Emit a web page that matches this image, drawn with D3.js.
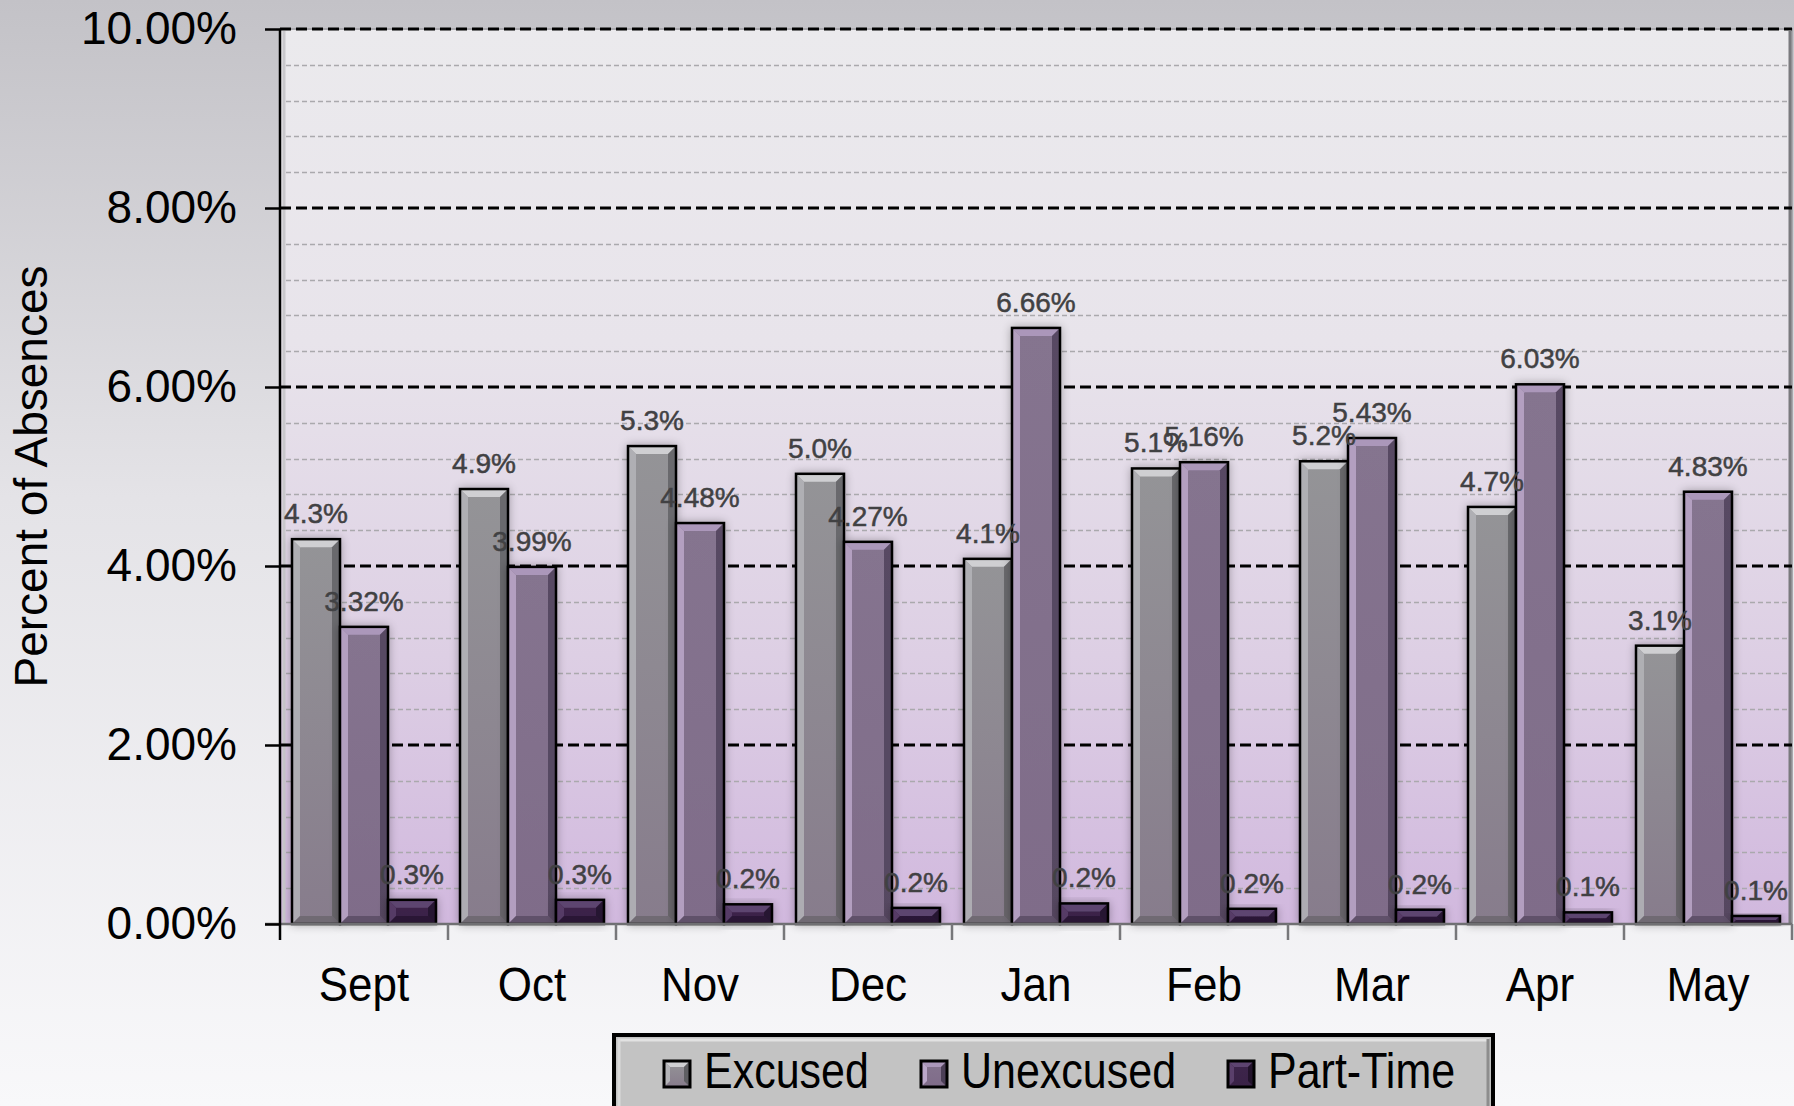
<!DOCTYPE html>
<html>
<head>
<meta charset="utf-8">
<script src="https://cdn.jsdelivr.net/npm/d3@7"></script>
<style>
  body { margin: 0; padding: 0; overflow: hidden; }
  svg { display: block; font-family: "Liberation Sans", Arial, sans-serif; }
</style>
</head>
<body>
<svg id="chart" width="1794" height="1106"></svg>
<script>
var months = ["Sept", "Oct", "Nov", "Dec", "Jan", "Feb", "Mar", "Apr", "May"];
var seriesNames = ["Excused", "Unexcused", "Part-Time"];
var excused = [4.30, 4.86, 5.34, 5.03, 4.08, 5.09, 5.17, 4.66, 3.11];
var unexcused = [3.32, 3.99, 4.48, 4.27, 6.66, 5.16, 5.43, 6.03, 4.83];
var partTime = [0.27, 0.27, 0.22, 0.18, 0.23, 0.17, 0.16, 0.13, 0.09];
var labelDigits = [1, 2, 1];
var yTicks = [0, 2, 4, 6, 8, 10];

var svg = d3.select("svg#chart"),
    W = +svg.attr("width"),
    H = +svg.attr("height"),
    margin = {top: 29, right: 2, bottom: 182, left: 280},
    width = W - margin.left - margin.right,
    height = H - margin.top - margin.bottom;

var data = months.map(function(m, i) {
  return {month: m, values: [excused[i], unexcused[i], partTime[i]]};
});

// colours per series: base gradient top/bottom, bevel light, bevel dark
var pal = [
  {top: "#949497", bot: "#877c8c", light: "#cfcfd2", side: "#b4b4b8", dark: "#5f5f63"},
  {top: "#85748f", bot: "#7f6c89", light: "#ab97ba", side: "#bba7c9", dark: "#4c3f57"},
  {top: "#3d254b", bot: "#3a2247", light: "#5d4470", side: "#5a3f6b", dark: "#22132b"}
];

var defs = svg.append("defs");

var bg = defs.append("linearGradient").attr("id", "bg").attr("x1", 0).attr("y1", 0).attr("x2", 0).attr("y2", 1);
bg.append("stop").attr("offset", "0%").attr("stop-color", "#c3c2c7");
bg.append("stop").attr("offset", "45%").attr("stop-color", "#e4e3e7");
bg.append("stop").attr("offset", "100%").attr("stop-color", "#f8f8fa");

var pg = defs.append("linearGradient").attr("id", "plotbg").attr("x1", 0).attr("y1", 0).attr("x2", 0).attr("y2", 1);
pg.append("stop").attr("offset", "0%").attr("stop-color", "#ebeaed");
pg.append("stop").attr("offset", "35%").attr("stop-color", "#e8e4eb");
pg.append("stop").attr("offset", "70%").attr("stop-color", "#ddcfe4");
pg.append("stop").attr("offset", "100%").attr("stop-color", "#d1b8de");

pal.forEach(function(p, i) {
  var lg = defs.append("linearGradient").attr("id", "bar" + i).attr("x1", 0).attr("y1", 0).attr("x2", 0).attr("y2", 1);
  lg.append("stop").attr("offset", "0%").attr("stop-color", p.top);
  lg.append("stop").attr("offset", "100%").attr("stop-color", p.bot);
});

var shadow = defs.append("filter").attr("id", "shadow").attr("x", "-30%").attr("y", "-30%").attr("width", "160%").attr("height", "160%");
shadow.append("feGaussianBlur").attr("in", "SourceAlpha").attr("stdDeviation", 5).attr("result", "b");
shadow.append("feComponentTransfer").attr("in", "b").attr("result", "s")
  .append("feFuncA").attr("type", "linear").attr("slope", 0.3);
var merge = shadow.append("feMerge");
merge.append("feMergeNode").attr("in", "s");
merge.append("feMergeNode").attr("in", "SourceGraphic");

svg.append("rect").attr("width", W).attr("height", H).attr("fill", "url(#bg)");

var g = svg.append("g").attr("transform", "translate(" + margin.left + "," + margin.top + ")");

var x0 = d3.scaleBand().domain(months).range([0, width]).padding(0);
var x1 = d3.scaleBand().domain(d3.range(3)).range([0, x0.bandwidth()]).paddingInner(0).paddingOuter(0.25);
var y = d3.scaleLinear().domain([0, 10]).range([height, 0]);

// plot area
g.append("rect")
  .attr("x", 0).attr("y", 0)
  .attr("width", width).attr("height", height)
  .attr("fill", "url(#plotbg)")
  .attr("stroke", "#a9a8ad").attr("stroke-width", 2);
g.append("line").attr("x1", 4).attr("x2", 4).attr("y1", 2).attr("y2", height)
  .attr("stroke", "#c9c8cc").attr("stroke-width", 3);
g.append("line").attr("x1", width - 2).attr("x2", width - 2).attr("y1", 2).attr("y2", height)
  .attr("stroke", "#7a7a7e").attr("stroke-width", 3);

// minor grid
var minor = d3.range(0.4, 10, 0.4).filter(function(v) { return Math.abs(v / 2 - Math.round(v / 2)) > 0.01; });
g.append("g").selectAll("line")
  .data(minor)
  .enter().append("line")
    .attr("x1", 6).attr("x2", width - 4)
    .attr("y1", function(d) { return Math.round(y(d)) + 0.5; })
    .attr("y2", function(d) { return Math.round(y(d)) + 0.5; })
    .attr("stroke", "#aaa9ad").attr("stroke-width", 1.5)
    .attr("stroke-dasharray", "5,3");

// major grid
g.append("g").selectAll("line")
  .data(yTicks.slice(1))
  .enter().append("line")
    .attr("x1", 0).attr("x2", width)
    .attr("y1", function(d) { return y(d); })
    .attr("y2", function(d) { return y(d); })
    .attr("stroke", "#000").attr("stroke-width", 3)
    .attr("stroke-dasharray", "11,5");

var groups = g.append("g").selectAll("g")
  .data(data)
  .enter().append("g")
    .attr("transform", function(d) { return "translate(" + x0(d.month) + ",0)"; });

// bars
var bev = 8;
groups.selectAll("g.bar")
  .data(function(d) { return d.values.map(function(v, i) { return {s: i, v: v}; }); })
  .enter().append("g")
    .attr("class", "bar")
    .attr("filter", "url(#shadow)")
    .each(function(d) {
      var b = d3.select(this),
          p = pal[d.s],
          bx = x1(d.s), bw = x1.bandwidth(),
          by = y(d.v), bh = y(0) - y(d.v),
          e = Math.min(bev, bh / 2);
      b.append("rect")
        .attr("x", bx).attr("y", by).attr("width", bw).attr("height", bh)
        .attr("fill", "url(#bar" + d.s + ")");
      // top bevel
      b.append("path")
        .attr("d", "M" + bx + "," + by + "L" + (bx + bw) + "," + by + "L" + (bx + bw - e) + "," + (by + e) + "L" + (bx + e) + "," + (by + e) + "Z")
        .attr("fill", p.light);
      // left bevel
      b.append("path")
        .attr("d", "M" + bx + "," + by + "L" + (bx + e) + "," + (by + e) + "L" + (bx + e) + "," + (by + bh - e) + "L" + bx + "," + (by + bh) + "Z")
        .attr("fill", p.side).attr("opacity", 0.85);
      // right bevel
      b.append("path")
        .attr("d", "M" + (bx + bw) + "," + by + "L" + (bx + bw - e) + "," + (by + e) + "L" + (bx + bw - e) + "," + (by + bh - e) + "L" + (bx + bw) + "," + (by + bh) + "Z")
        .attr("fill", p.dark).attr("opacity", 0.8);
      // bottom bevel
      b.append("path")
        .attr("d", "M" + bx + "," + (by + bh) + "L" + (bx + e) + "," + (by + bh - e) + "L" + (bx + bw - e) + "," + (by + bh - e) + "L" + (bx + bw) + "," + (by + bh) + "Z")
        .attr("fill", p.dark).attr("opacity", 0.6);
      b.append("rect")
        .attr("x", bx).attr("y", by).attr("width", bw).attr("height", bh)
        .attr("fill", "none").attr("stroke", "#000").attr("stroke-width", 2.5);
    });

// value labels
groups.selectAll("text.val")
  .data(function(d) { return d.values.map(function(v, i) { return {s: i, v: v}; }); })
  .enter().append("text")
    .attr("class", "val")
    .attr("x", function(d) { return x1(d.s) + x1.bandwidth() / 2; })
    .attr("y", function(d) { return y(d.v) - 16; })
    .attr("text-anchor", "middle")
    .attr("font-size", 28)
    .attr("fill", "#414143")
    .attr("stroke", "#414143").attr("stroke-width", 0.5)
    .text(function(d) { return d.v.toFixed(labelDigits[d.s]) + "%"; });

// baseline and axes
g.append("line").attr("x1", -15).attr("x2", width).attr("y1", height).attr("y2", height)
  .attr("stroke", "#6f6f72").attr("stroke-width", 2.5);
g.append("line").attr("x1", 0).attr("x2", 0).attr("y1", 0).attr("y2", height + 16)
  .attr("stroke", "#000").attr("stroke-width", 2.5);

var yAxis = g.append("g")
  .call(d3.axisLeft(y).tickValues(yTicks).tickSize(15).tickPadding(28)
    .tickFormat(function(d) { return d.toFixed(2) + "%"; }));
yAxis.select(".domain").remove();
yAxis.selectAll(".tick line").attr("stroke", "#000").attr("stroke-width", 2.5);
yAxis.selectAll(".tick text")
  .attr("font-size", 46)
  .attr("font-family", "Liberation Sans, Arial, sans-serif")
  .attr("fill", "#000");

// month ticks at category boundaries
g.append("g").selectAll("line")
  .data(months)
  .enter().append("line")
    .attr("x1", function(d) { return x0(d) + x0.bandwidth(); })
    .attr("x2", function(d) { return x0(d) + x0.bandwidth(); })
    .attr("y1", height).attr("y2", height + 16)
    .attr("stroke", "#77777a").attr("stroke-width", 2.5);

g.append("g").selectAll("text")
  .data(months)
  .enter().append("text")
    .attr("transform", function(d) { return "translate(" + (x0(d) + x0.bandwidth() / 2) + "," + (height + 77) + ") scale(1,1.1)"; })
    .attr("text-anchor", "middle")
    .attr("font-size", 44)
    .attr("fill", "#000")
    .text(function(d) { return d; });

svg.append("text")
  .attr("transform", "translate(47," + (margin.top + height / 2) + ") rotate(-90)")
  .attr("text-anchor", "middle")
  .attr("font-size", 46)
  .attr("fill", "#000")
  .text("Percent of Absences");

// legend
var lx = 614, ly = 1035, lw = 879, lh = 80;
var legend = svg.append("g");
legend.append("rect")
  .attr("x", lx).attr("y", ly).attr("width", lw).attr("height", lh)
  .attr("fill", "#c3c3c3").attr("stroke", "#000").attr("stroke-width", 4);
legend.append("line").attr("x1", lx + 4).attr("x2", lx + lw - 4).attr("y1", ly + 5).attr("y2", ly + 5)
  .attr("stroke", "#e2e2e2").attr("stroke-width", 3);
legend.append("line").attr("x1", lx + 5).attr("x2", lx + 5).attr("y1", ly + 4).attr("y2", ly + lh)
  .attr("stroke", "#dadada").attr("stroke-width", 3);
legend.append("line").attr("x1", lx + lw - 5).attr("x2", lx + lw - 5).attr("y1", ly + 4).attr("y2", ly + lh)
  .attr("stroke", "#8d8d8d").attr("stroke-width", 3);

var legendX = [664, 921, 1228];
var items = legend.selectAll("g.item")
  .data(seriesNames)
  .enter().append("g")
    .attr("class", "item")
    .attr("transform", function(d, i) { return "translate(" + legendX[i] + "," + (ly + 26) + ")"; });

items.each(function(d, i) {
  var it = d3.select(this), p = pal[i], s = 26, e = 6;
  it.append("rect").attr("width", s).attr("height", s).attr("fill", "url(#bar" + i + ")");
  it.append("path").attr("d", "M0,0L" + s + ",0L" + (s - e) + "," + e + "L" + e + "," + e + "Z").attr("fill", p.light);
  it.append("path").attr("d", "M0,0L" + e + "," + e + "L" + e + "," + (s - e) + "L0," + s + "Z").attr("fill", p.side);
  it.append("path").attr("d", "M" + s + ",0L" + (s - e) + "," + e + "L" + (s - e) + "," + (s - e) + "L" + s + "," + s + "Z").attr("fill", p.dark);
  it.append("rect").attr("width", s).attr("height", s).attr("fill", "none").attr("stroke", "#000").attr("stroke-width", 3);
  it.append("text")
    .attr("transform", "translate(40," + (s + 1) + ") scale(1,1.15)")
    .attr("font-size", 43)
    .attr("fill", "#000")
    .text(d);
});
</script>
</body>
</html>
